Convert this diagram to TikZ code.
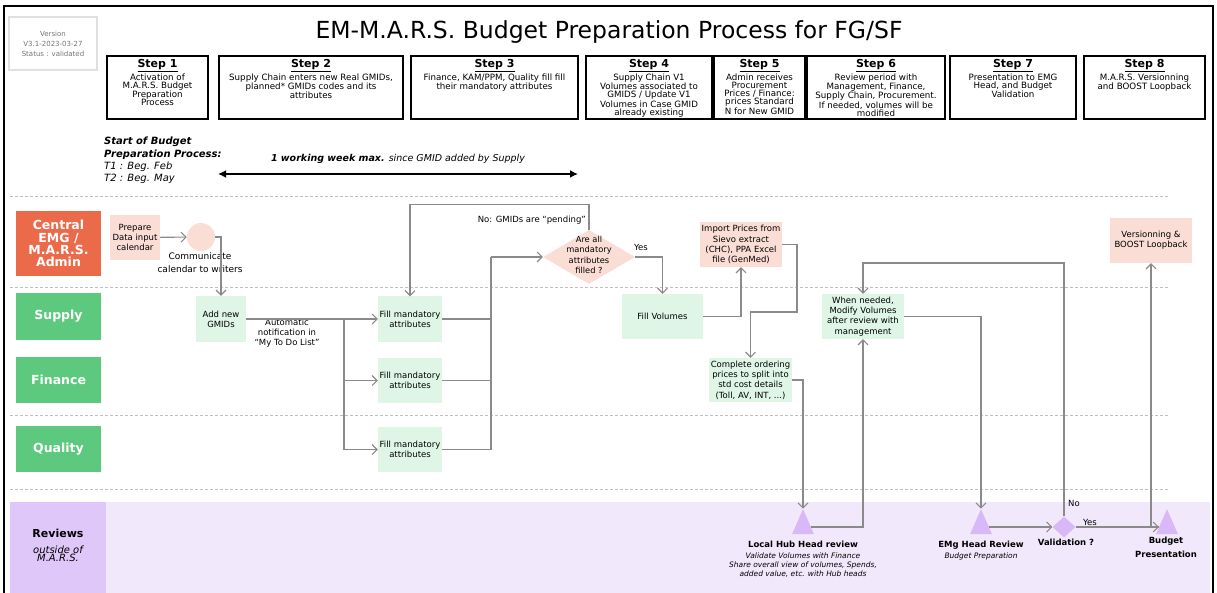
\documentclass[tikz,border=0pt]{standalone}
\usepackage{fontspec}
\setmainfont{DejaVu Sans}
\usetikzlibrary{arrows.meta,shapes.geometric}

\definecolor{rouge}{RGB}{234,106,74}
\definecolor{vertfonce}{RGB}{92,201,127}
\definecolor{vertclair}{RGB}{223,245,230}
\definecolor{rose}{RGB}{250,221,213}
\definecolor{mauve}{RGB}{216,184,246}
\definecolor{mauveclair}{RGB}{224,199,250}
\definecolor{fondrevue}{RGB}{242,232,251}
\definecolor{gris}{RGB}{138,138,138}

\lineskiplimit=-10pt
\newcommand{\titreetape}[1]{{\fontsize{11}{13}\selectfont\bfseries\underline{#1}\par}\vspace{1pt}}

\begin{document}
\begin{tikzpicture}
  [x=1pt, y=-1pt,
   etape/.style={
    draw=black,
    line width=1.2pt,
    rectangle,
    inner sep=0pt,
    minimum height=63pt,
    font=\fontsize{8.7}{8.2}\selectfont},
   admin/.style={
    fill=rouge,
    rectangle,
    inner sep=0pt,
    minimum width=85pt,
    minimum height=65pt,
    text=white,
    font=\fontsize{12.5}{12.3}\selectfont\bfseries},
   equipe/.style={
    fill=vertfonce,
    rectangle,
    inner sep=0pt,
    minimum width=85pt,
    minimum height=46pt,
    text=white,
    font=\fontsize{12.5}{14}\selectfont\bfseries},
   saisie/.style={
    fill=rose,
    rectangle,
    inner sep=0pt,
    minimum height=45pt,
    font=\fontsize{8.5}{10.3}\selectfont},
   tache/.style={
    fill=vertclair,
    rectangle,
    inner sep=0pt,
    minimum height=45pt,
    font=\fontsize{8.5}{10.3}\selectfont},
   revue/.style={
    fill=mauve,
    isosceles triangle,
    isosceles triangle stretches,
    shape border rotate=90,
    inner sep=0pt,
    minimum width=22pt,
    minimum height=25pt},
   decision/.style={
    diamond,
    inner sep=0pt},
   texte/.style={
    inner sep=0pt,
    font=\fontsize{8.5}{10}\selectfont},
   fleche/.style={
    draw=gris,
    line width=1.1pt,
    -{Straight Barb[length=5pt,width=10pt]}},
   trait/.style={
    draw=gris,
    line width=1.1pt},
   couloir/.style={
    draw=black!25,
    dash pattern=on 3pt off 2pt,
    line width=0.8pt}]

  \useasboundingbox (0,0) rectangle (1217,593);

  % fond, cadre et couloirs
  \fill [fondrevue] (10,502) rectangle (1210,600);
  \draw [line width=2pt] (4,600) -- (4,6) -- (1213,6) -- (1213,600);
  \draw [couloir] (10,196) -- (1168,196);
  \draw [couloir] (10,287) -- (1168,287);
  \draw [couloir] (10,415) -- (1168,415);
  \draw [couloir] (10,489) -- (1168,489);

  \node [draw=black!12, line width=1.5pt, inner sep=0pt, minimum width=88pt, minimum height=53pt,
    text=black!55, font=\fontsize{7}{10}\selectfont] at (53,43.5) (version) {
  \begin{minipage}{86pt}
    \centering
    Version\\ V3.1-2023-03-27\\ Status : validated
  \end{minipage}
  };

  \node [font=\fontsize{23.5}{28}\selectfont] at (609,32) (titre)
    {EM-M.A.R.S. Budget Preparation Process for FG/SF};

  % etapes
  \node [etape, minimum width=101pt] at (157.5,87.5) (etape1) {
  \begin{minipage}[t][57pt][t]{99pt}
    \centering
    \titreetape{Step 1}
    Activation of\\ M.A.R.S. Budget\\ Preparation\\ Process
  \end{minipage}
  };

  \node [etape, minimum width=184pt] at (311,87.5) (etape2) {
  \begin{minipage}[t][57pt][t]{182pt}
    \centering
    \titreetape{Step 2}
    Supply Chain enters new Real GMIDs,\\ planned* GMIDs codes and its\\ attributes
  \end{minipage}
  };

  \node [etape, minimum width=167pt] at (494.5,87.5) (etape3) {
  \begin{minipage}[t][57pt][t]{165pt}
    \centering
    \titreetape{Step 3}
    Finance, KAM/PPM, Quality fill fill\\ their mandatory attributes
  \end{minipage}
  };

  \node [etape, minimum width=126pt] at (649,87.5) (etape4) {
  \begin{minipage}[t][57pt][t]{124pt}
    \centering
    \titreetape{Step 4}
    Supply Chain V1\\ Volumes associated to\\ GMIDS / Update V1\\ Volumes in Case GMID\\ already existing
  \end{minipage}
  };

  \node [etape, minimum width=91pt] at (759.5,87.5) (etape5) {
  \begin{minipage}[t][57pt][t]{89pt}
    \centering
    \titreetape{Step 5}
    Admin receives\\ Procurement\\ Prices / Finance:\\ prices Standard\\ N for New GMID
  \end{minipage}
  };

  \node [etape, minimum width=138pt] at (876,87.5) (etape6) {
  \begin{minipage}[t][57pt][t]{136pt}
    \centering
    \titreetape{Step 6}
    Review period with\\ Management, Finance,\\ Supply Chain, Procurement.\\ If needed, volumes will be\\ modified
  \end{minipage}
  };

  \node [etape, minimum width=126pt] at (1013,87.5) (etape7) {
  \begin{minipage}[t][57pt][t]{124pt}
    \centering
    \titreetape{Step 7}
    Presentation to EMG\\ Head, and Budget\\ Validation
  \end{minipage}
  };

  \node [etape, minimum width=121pt] at (1144.5,87.5) (etape8) {
  \begin{minipage}[t][57pt][t]{119pt}
    \centering
    \titreetape{Step 8}
    M.A.R.S. Versionning\\ and BOOST Loopback
  \end{minipage}
  };

  % debut et duree
  \node [anchor=north west, inner sep=0pt, font=\fontsize{10}{12.3}\selectfont\itshape] at (104,137) (debut) {
  \begin{minipage}{130pt}
    \textbf{Start of Budget}\\
    \textbf{Preparation Process:}\\
    T1 : Beg. Feb\\
    T2 : Beg. May
  \end{minipage}
  };

  \coordinate (semaineA) at (218,174);
  \coordinate (semaineB) at (578,174);
  \draw [line width=2.2pt, {Latex[length=8pt,width=8pt]}-{Latex[length=8pt,width=8pt]}] (semaineA) -- (semaineB);
  \node [font=\fontsize{9.5}{11}\selectfont\itshape] at (398,159) (semaine)
    {\textbf{1 working week max.} since GMID added by Supply};

  % couloirs
  \node [admin] at (58.5,243.5) (central) {
  \begin{minipage}{85pt}
    \centering
    Central\\ EMG /\\ M.A.R.S.\\ Admin
  \end{minipage}
  };
  \node [equipe] at (58.5,316.5) (supply) {Supply};
  \node [equipe] at (58.5,380) (finance) {Finance};
  \node [equipe] at (58.5,449) (quality) {Quality};

  \node [fill=mauveclair, inner sep=0pt, minimum width=96pt, minimum height=91pt] at (58,547.5) (reviews) {
  \begin{minipage}{94pt}
    \centering
    {\fontsize{11}{13}\selectfont\bfseries Reviews\par}
    \vspace{7pt}
    {\fontsize{10}{8.6}\selectfont\itshape outside of\\ M.A.R.S.\par}
    \vspace{4pt}
  \end{minipage}
  };

  % central
  \node [saisie, minimum width=50pt] at (135,237.5) (prepare) {
  \begin{minipage}{50pt}
    \centering
    Prepare\\ Data input\\ calendar
  \end{minipage}
  };
  \node [circle, fill=rose, inner sep=0pt, minimum size=28pt] at (201,237) (communique) {};
  \node [texte, font=\fontsize{9}{13}\selectfont] at (200,262.5) (communiquetxt) {
  \begin{minipage}{100pt}
    \centering
    Communicate\\ calendar to writers
  \end{minipage}
  };

  % saisie des GMIDs
  \node [tache, minimum width=50pt, minimum height=46pt] at (221,319) (ajout) {
  \begin{minipage}{50pt}
    \centering
    Add new\\ GMIDs
  \end{minipage}
  };
  \node [texte] at (287,333) (notiftxt) {
  \begin{minipage}{80pt}
    \centering
    Automatic\\ notification in\\ ``My To Do List''
  \end{minipage}
  };

  \node [tache, minimum width=64pt] at (410,319) (remplirS) {
  \begin{minipage}{64pt}
    \centering
    Fill mandatory\\ attributes
  \end{minipage}
  };
  \node [tache, minimum width=64pt] at (410,380.5) (remplirF) {
  \begin{minipage}{64pt}
    \centering
    Fill mandatory\\ attributes
  \end{minipage}
  };
  \node [tache, minimum width=64pt] at (410,449.5) (remplirQ) {
  \begin{minipage}{64pt}
    \centering
    Fill mandatory\\ attributes
  \end{minipage}
  };

  \node [decision, fill=rose, minimum width=92pt, minimum height=54pt, font=\fontsize{8.3}{10.3}\selectfont] at (589,257) (complet) {
  \smash{\makebox[0pt]{\begin{minipage}{70pt}
    \centering
    Are all\\ mandatory\\ attributes\\ filled ?
  \end{minipage}}}
  };
  \node [texte, anchor=east] at (586,220) (nontxt) {No: GMIDs are ``pending''};
  \node [texte] at (641,247) (ouitxt) {Yes};

  % volumes et prix
  \node [tache, minimum width=81pt] at (662.5,316.5) (volumes) {Fill Volumes};
  \node [saisie, minimum width=82pt] at (741,244.5) (import) {
  \begin{minipage}{82pt}
    \centering
    Import Prices from\\ Sievo extract\\ (CHC), PPA Excel\\ file (GenMed)
  \end{minipage}
  };
  \node [tache, minimum width=83pt, minimum height=44pt] at (750.5,380) (ordre) {
  \begin{minipage}{83pt}
    \centering
    Complete ordering\\ prices to split into\\ std cost details\\ (Toll, AV, INT, ...)
  \end{minipage}
  };
  \node [tache, minimum width=82pt] at (863,316.5) (modif) {
  \begin{minipage}{82pt}
    \centering
    When needed,\\ Modify Volumes\\ after review with\\ management
  \end{minipage}
  };
  \node [saisie, minimum width=82pt] at (1151,240.5) (boost) {
  \begin{minipage}{82pt}
    \centering
    Versionning \&\\ BOOST Loopback
  \end{minipage}
  };

  % revues
  \node [revue] at (803,527) (hub) {};
  \node [revue] at (981,527) (emg) {};
  \node [revue] at (1167,527) (budget) {};
  \node [decision, fill=mauve, minimum width=23pt, minimum height=21pt] at (1064,527) (validation) {};

  \node [texte, anchor=north] at (803,541) (hubtxt) {
  \begin{minipage}{180pt}
    \centering
    {\bfseries Local Hub Head review\par}
    \vspace{2pt}
    {\fontsize{7.5}{9}\selectfont\itshape Validate Volumes with Finance\\
    Share overall view of volumes, Spends,\\ added value, etc. with Hub heads\par}
  \end{minipage}
  };
  \node [texte, anchor=north] at (981,541) (emgtxt) {
  \begin{minipage}{100pt}
    \centering
    {\bfseries EMg Head Review\par}
    {\fontsize{7.5}{11}\selectfont\itshape Budget Preparation\par}
  \end{minipage}
  };
  \node [texte, font=\fontsize{8.5}{10}\selectfont\bfseries] at (1066,542) (validtxt) {Validation ?};
  \node [texte, font=\fontsize{8.5}{14}\selectfont\bfseries] at (1166,547) (budgettxt) {
  \begin{minipage}{70pt}
    \centering
    Budget\\ Presentation
  \end{minipage}
  };
  \node [texte, anchor=west] at (1068,503) (nonval) {No};
  \node [texte, anchor=south] at (1090,526) (ouival) {Yes};

  % connecteurs
  \draw [fleche] (prepare) -- (communique);
  \draw [fleche] (communique.east) -| (ajout.north);
  \draw [fleche] (ajout) -- (remplirS);
  \coordinate (notif) at (344,319);
  \draw [fleche] (notif) |- (remplirF);
  \draw [fleche] (notif) |- (remplirQ);
  \coordinate (regroupe) at (491,257);
  \draw [trait] (remplirS) -| (regroupe);
  \draw [trait] (remplirF) -| (regroupe);
  \draw [trait] (remplirQ) -| (regroupe);
  \draw [fleche] (regroupe) -- (complet);
  \draw [fleche] (complet.north) -- ++(0,-25) -| (remplirS.north);
  \draw [fleche] (complet.east) -| (volumes.north);
  \draw [fleche] (volumes) -| (import);
  \coordinate (detour) at (797,312);
  \draw [fleche] (import.east) -| (detour) -| (ordre.north);
  \draw [fleche] (ordre.east) -| (hub.apex);
  \draw [fleche] (hub.east) -| (modif.south);
  \draw [fleche] (modif.east) -| (emg.apex);
  \draw [fleche] (emg.east) -- (validation.west);
  \coordinate (retour) at (1064,263);
  \draw [fleche] (validation.north) -- (retour) -| (modif.north);
  \draw [fleche] (validation.east) -- (budget.west);
  \draw [fleche] (budget.west) -| (boost.south);
\end{tikzpicture}
\end{document}
